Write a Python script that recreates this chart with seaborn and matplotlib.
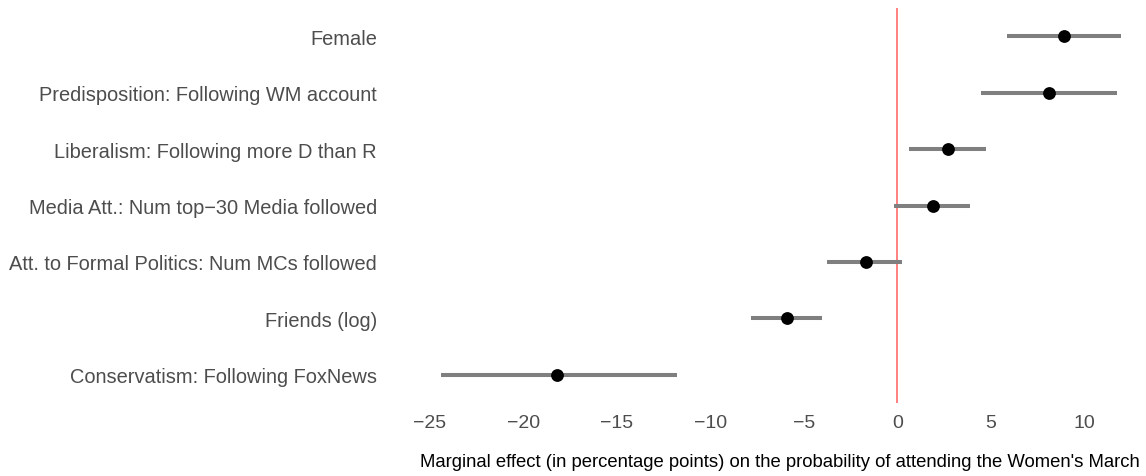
import matplotlib
matplotlib.use("Agg")
import matplotlib.pyplot as plt
import seaborn as sns
import pandas as pd

# Marginal effects with confidence intervals (percentage points)
variables = [
    "Female",
    "Predisposition: Following WM account",
    "Liberalism: Following more D than R",
    "Media Att.: Num top\u221230 Media followed",
    "Att. to Formal Politics: Num MCs followed",
    "Friends (log)",
    "Conservatism: Following FoxNews",
]
estimate = [8.89, 8.13, 2.69, 1.91, -1.70, -5.91, -18.2]
ci_low = [5.87, 4.47, 0.61, -0.18, -3.74, -7.84, -24.4]
ci_high = [11.94, 11.72, 4.73, 3.89, 0.25, -4.04, -11.8]
x_ticks = [-25, -20, -15, -10, -5, 0, 5, 10]

df = pd.DataFrame({"variable": variables, "estimate": estimate,
                   "low": ci_low, "high": ci_high})
df["pos"] = range(len(df))

sns.set_theme(style="white")
plt.rcParams["font.family"] = ["Liberation Sans", "DejaVu Sans"]

W, H = 1146, 477
fig = plt.figure(figsize=(W / 100, H / 100), dpi=100)
left_px, right_px, top_px, bottom_px = 388, 1141, 9, 404
ax = fig.add_axes([left_px / W, 1 - bottom_px / H,
                   (right_px - left_px) / W, (bottom_px - top_px) / H])

# zero reference line
ax.axvline(0, color="#FF8080", lw=1.4, zorder=1)

# confidence intervals
ax.hlines(df["pos"], df["low"], df["high"], color="#7F7F7F", lw=2.9, zorder=2)

# point estimates
sns.scatterplot(data=df, x="estimate", y="pos", color="black", s=85,
                edgecolor="black", linewidth=0, zorder=3, ax=ax, legend=False)

ax.set_xlim(-27.24, 13.03)
ax.set_ylim(len(df) - 0.5, -0.5)
ax.set_xticks(x_ticks)
ax.set_xticklabels([f"{t}".replace("-", "\u2212") for t in x_ticks])
ax.set_yticks(df["pos"])
ax.set_yticklabels(df["variable"])

for s in ax.spines.values():
    s.set_visible(False)
ax.tick_params(axis="both", length=0, colors="#4D4D4D")
ax.tick_params(axis="y", pad=8, labelsize=14.4)
ax.tick_params(axis="x", pad=8, labelsize=14)
ax.grid(False)

ax.set_ylabel("")
ax.set_xlabel("Marginal effect (in percentage points) on the probability of attending the Women's March",
              fontsize=13.3, color="black", va="center")
ax.xaxis.set_label_coords(0.521, -0.149)

fig.savefig("out.png", dpi=100)
